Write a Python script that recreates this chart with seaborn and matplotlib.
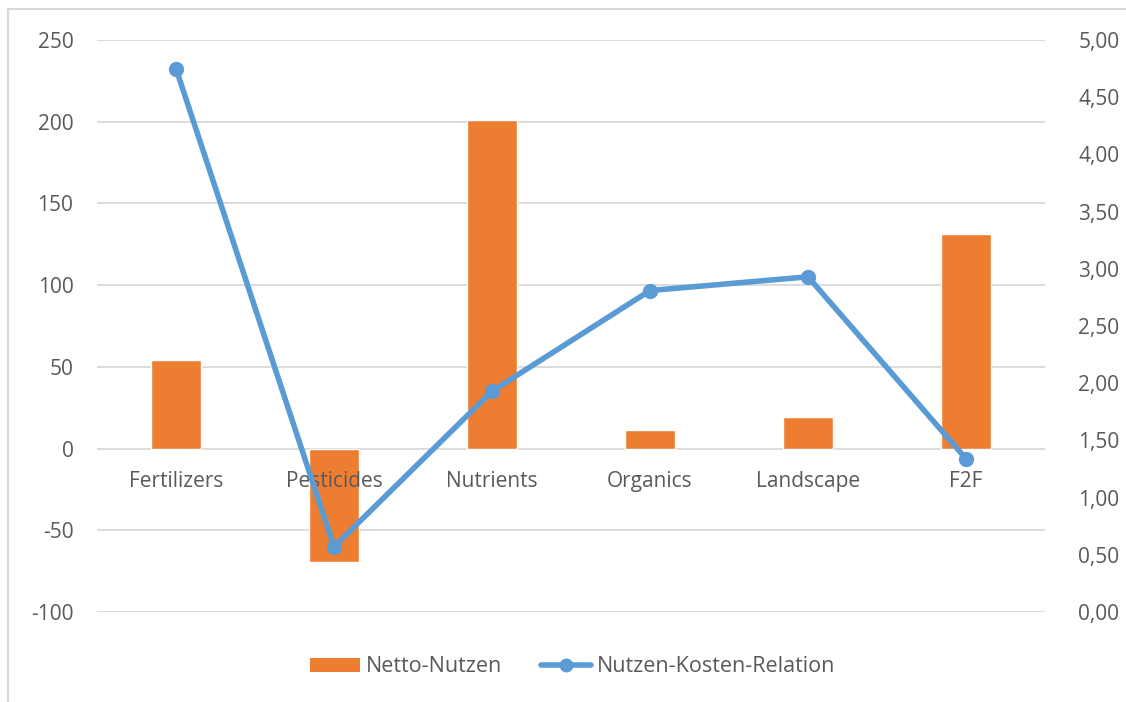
import numpy as np
import pandas as pd
import matplotlib.pyplot as plt
import seaborn as sns
from matplotlib.lines import Line2D
from matplotlib.patches import Patch
from matplotlib.ticker import FuncFormatter

categories = ["Fertilizers", "Pesticides", "Nutrients", "Organics", "Landscape", "F2F"]
netto_nutzen = [54.5, -69.5, 201, 11.5, 19.5, 131.5]
nutzen_kosten = [4.75, 0.57, 1.93, 2.81, 2.93, 1.34]

orange = "#ED7D31"
blue = "#5B9BD5"
text_grey = "#595959"

data = pd.DataFrame({"Kategorie": categories,
                     "Netto-Nutzen": netto_nutzen,
                     "Nutzen-Kosten-Relation": nutzen_kosten})

sns.set_style("white")
plt.rcParams["font.family"] = ["Open Sans", "DejaVu Sans"]
plt.rcParams["axes.unicode_minus"] = False
fs = 15

fig = plt.figure(figsize=(11.26, 7.02), dpi=100)
ax = fig.add_axes([97 / 1126, 1 - 612 / 702, 948 / 1126, 572 / 702])

sns.barplot(data=data, x="Kategorie", y="Netto-Nutzen", color=orange,
            saturation=1, width=0.316, ax=ax, zorder=1)
ax.set_ylim(-100, 250)
yticks = np.arange(-100, 251, 50)
ax.set_yticks(yticks)
ax.set_xlim(-0.5, len(categories) - 0.5)
# gridlines behind the bars, category labels above them
ax.set_axisbelow(False)
ax.grid(False)
for t in yticks:
    ax.axhline(t, color="#D9D9D9", lw=1.3, zorder=0)
for s in ax.spines.values():
    s.set_visible(False)
ax.spines["bottom"].set_position(("data", 0))
ax.set_xlabel("")
ax.set_ylabel("")
ax.tick_params(axis="y", length=0, pad=17, labelsize=fs, labelcolor=text_grey)
ax.tick_params(axis="x", length=0, pad=16, labelsize=fs, labelcolor=text_grey)

ax2 = ax.twinx()
sns.pointplot(data=data, x="Kategorie", y="Nutzen-Kosten-Relation", color=blue,
              markers="o", markersize=8, linewidth=4, ax=ax2)
ax2.set_ylim(0, 5)
ax2.set_yticks(np.arange(0, 5.01, 0.5))
ax2.yaxis.set_major_formatter(FuncFormatter(lambda v, p: f"{v:.2f}".replace(".", ",")))
ax2.set_xlim(-0.5, len(categories) - 0.5)
ax2.set_ylabel("")
ax2.set_xlabel("")
for s in ax2.spines.values():
    s.set_visible(False)
ax2.tick_params(axis="y", length=0, pad=24, labelsize=fs, labelcolor=text_grey)

handles = [Patch(facecolor=orange, edgecolor="none", label="Netto-Nutzen"),
           Line2D([0], [0], color=blue, lw=4, marker="o", markersize=9,
                  label="Nutzen-Kosten-Relation")]
fig.legend(handles=handles, loc="center", bbox_to_anchor=(573 / 1126, 1 - 667 / 702),
           ncol=2, frameon=False, fontsize=15.5, labelcolor=text_grey,
           handlelength=2.3, handleheight=0.65, columnspacing=1.8, handletextpad=0.3)

# outer chart frame (only left and top edges visible)
fig.add_artist(Line2D([8 / 1126, 8 / 1126], [0, 1 - 9 / 702], color="#D9D9D9", lw=1.5))
fig.add_artist(Line2D([8 / 1126, 1], [1 - 9 / 702, 1 - 9 / 702], color="#D9D9D9", lw=1.5))

fig.savefig("out.png", dpi=100)
